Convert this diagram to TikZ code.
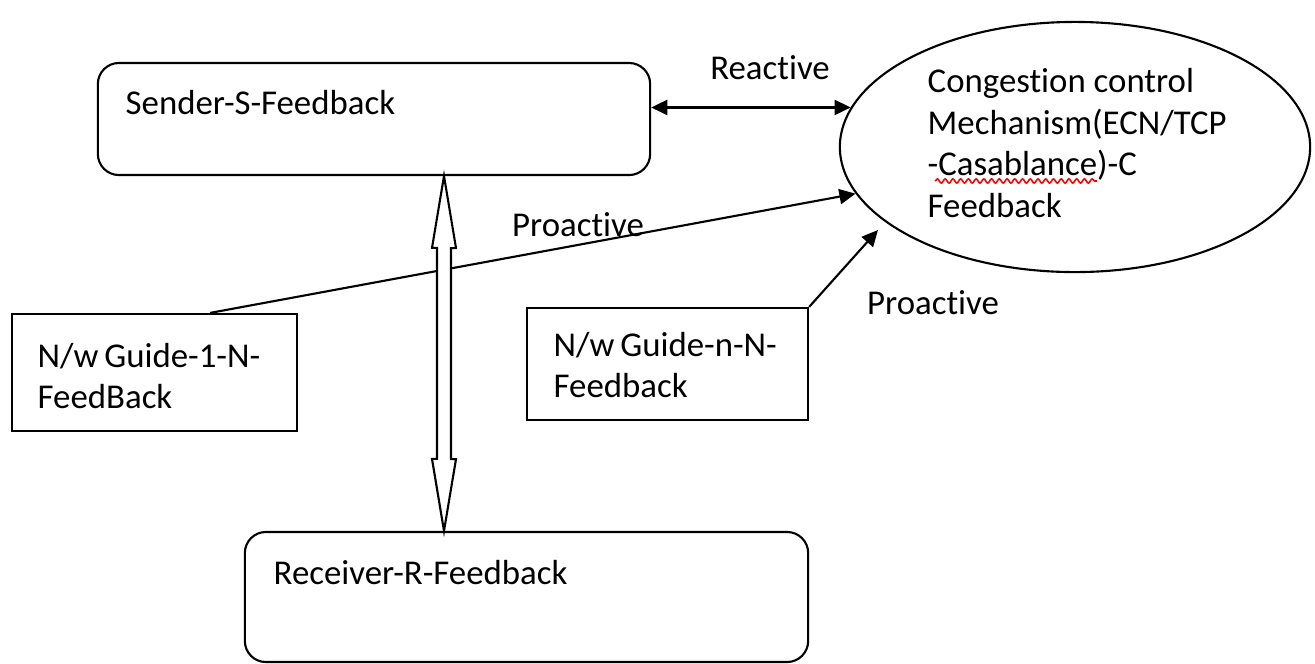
\documentclass[tikz,border=0pt]{standalone}
\usepackage{fontspec}
\setmainfont{Carlito}[Ligatures={NoCommon,NoContextual}]
\usetikzlibrary{arrows.meta,shapes.geometric,decorations.pathmorphing}
\tikzset{
  rbox/.style = {draw, line width=.6pt, rounded corners=6pt, inner sep=0pt},
  sbox/.style = {draw, line width=.6pt, inner sep=0pt},
  txt/.style = {anchor=west, align=left, inner sep=0pt, font=\fontsize{9.9}{11.8}\selectfont},
  arr/.style = {line width=.6pt, -{Triangle[length=4.6pt, width=4.3pt]}}
}
\begin{document}
\begin{tikzpicture}[x = .01cm, y = -.01cm]
	\useasboundingbox (0,0) rectangle (1315,663);
	\node[rbox, minimum width=5.52cm, minimum height=1.12cm] (sender) at (374,119) {}; %sender
	\node[rbox, minimum width=5.63cm, minimum height=1.30cm] (receiver) at (526.5,597) {}; %receiver
	\node[draw, line width=.6pt, ellipse, minimum width=4.70cm, minimum height=2.50cm, inner sep=0pt] (cong) at (1075,147) {}; %congestion control
	\node[sbox, minimum width=2.85cm, minimum height=1.17cm] (guide1) at (154.5,372.5) {};
	\node[sbox, minimum width=2.81cm, minimum height=1.12cm] (guiden) at (667.5,364) {};
	% texts
	\node[txt] (sendertxt) at (125,103) {Sender-S-Feedback};
	\node[txt] (receivertxt) at (273,573) {Receiver-R-Feedback};
	\node[txt] (congtxt) at (927,143) {Congestion control\\Mechanism(ECN/TCP\\-Casablance)-C\\Feedback};
	\node[txt] (guide1txt) at (37,376) {N/w\,Guide-1-N-\\FeedBack};
	\node[txt] (guidentxt) at (553,365) {N/w\,Guide-n-N-\\Feedback};
	\draw[red, line width=.45pt, decorate, decoration={snake, amplitude=.6pt, segment length=2.2pt}] (935,181) -- (1097,181); %spelling mark
	% connectors
	\draw[line width=.6pt, {Triangle[length=4.6pt, width=4.3pt]}-{Triangle[length=4.6pt, width=4.3pt]}] (sender.east |- cong.170) -- (cong.170);
	\node[txt, anchor=center] (reactive) at (770,68) {Reactive};
	\draw[arr] ([xshift=.555cm]guide1.north) -- (cong.192);
	\node[txt, anchor=center] (proactive1) at (578,225) {Proactive};
	\coordinate (tipn) at (878,230);
	\draw[arr] (guiden.north east) -- (tipn);
	\node[txt, anchor=center] (proactive2) at (933,303) {Proactive};
	% hollow double arrow
	\coordinate (atop) at (sender.south -| 444,0);
	\coordinate (abot) at (receiver.north -| 444,0);
	\draw[line width=.6pt, fill=white] (atop) -- ++(12,72) -- ++(-5,0) -- ++(0,211) -- ++(5,0) -- (abot)
		-- ++(-12,-72) -- ++(5,0) -- ++(0,-211) -- ++(-5,0) -- cycle;
\end{tikzpicture}
\end{document}
